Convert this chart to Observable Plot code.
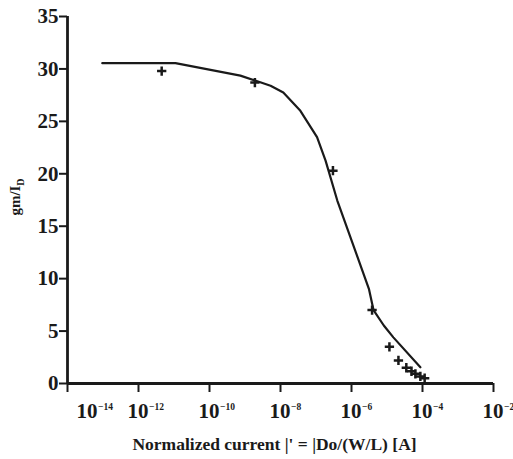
<!DOCTYPE html>
<html><head><meta charset="utf-8">
<script src="https://cdn.jsdelivr.net/npm/d3@7"></script>
<script src="https://cdn.jsdelivr.net/npm/@observablehq/plot@0.6"></script>
<style>body{margin:0;background:#fff}</style>
</head><body><div id="chart"></div>
<script>
// Simulated curve (solid line)
const curveCurrent = [9.55e-14, 1.1e-11, 7.41e-10, 5.25e-9, 1.2e-8, 3.63e-8, 1.07e-7, 1.86e-7, 3.98e-7, 3.09e-6, 4.17e-6, 8.13e-6, 1.51e-5, 8.71e-5];
const curveGm      = [30.55, 30.55, 29.36, 28.4, 27.75, 26.0, 23.5, 21.26, 17.45, 9.03, 7.0, 5.53, 4.4, 1.55];
// Measured points (+)
const measCurrent = [4.5e-12, 1.9e-9, 3.0e-7, 3.8e-6, 1.17e-5, 2.1e-5, 3.5e-5, 4.9e-5, 6.3e-5, 8.7e-5, 1.15e-4];
const measGm      = [29.8, 28.7, 20.3, 7.0, 3.5, 2.2, 1.5, 1.17, 0.92, 0.67, 0.5];
// Ticks and labels
const xTicks = [1e-14, 1e-12, 1e-10, 1e-8, 1e-6, 1e-4, 1e-2];
const yTicks = [0, 5, 10, 15, 20, 25, 30, 35];
const xLabel = "Normalized current |' = |Do/(W/L) [A]";
const yLabelMain = "gm/I";
const yLabelSub = "D";

const curve = curveCurrent.map((x, i) => ({x, y: curveGm[i]}));
const meas = measCurrent.map((x, i) => ({x, y: measGm[i]}));
const fmt = d => "10^" + Math.round(Math.log10(d));
const ink = "#1a1a1a";
const font = "'Liberation Serif', 'Times New Roman', serif";

const plot = Plot.plot({
  width: 513, height: 459,
  marginLeft: 67, marginRight: 20, marginTop: 16, marginBottom: 76,
  style: {fontFamily: font, fontWeight: "bold", color: ink, background: "#fff"},
  x: {type: "log", domain: [1e-14, 1e-2]},
  y: {domain: [0, 35]},
  marks: [
    Plot.axisY({ticks: yTicks, tickSize: 8, tickPadding: 1, label: null, strokeWidth: 2, fontSize: 21}),
    Plot.axisX({ticks: xTicks, tickSize: 9, tickFormat: () => "", label: null, strokeWidth: 2}),
    Plot.text(xTicks.slice(1), {x: d => d, text: fmt, frameAnchor: "bottom", textAnchor: "start", lineAnchor: "top", dx: -11, dy: 20, fontSize: 21}),
    Plot.text([xTicks[0]], {x: d => d, text: fmt, frameAnchor: "bottom", textAnchor: "start", lineAnchor: "top", dx: 9, dy: 20, fontSize: 21}),
    Plot.ruleY([0], {x1: 1e-14, x2: 1e-2, stroke: ink, strokeWidth: 2.8}),
    Plot.ruleX([1e-14], {y1: 0, y2: 35, stroke: ink, strokeWidth: 2.8}),
    Plot.line(curve, {x: "x", y: "y", stroke: ink, strokeWidth: 2.2}),
    Plot.dot(meas, {x: "x", y: "y", symbol: "plus", r: 3.1, stroke: ink, strokeWidth: 2.5}),
    Plot.text([xLabel], {frameAnchor: "bottom", text: d => d, dy: 61, dx: -6, fontSize: 17.5, lineAnchor: "middle", textAnchor: "middle"}),
    Plot.text([yLabelMain], {frameAnchor: "left", text: d => d, dx: -52, dy: -3, rotate: -90, fontSize: 15, lineAnchor: "middle", textAnchor: "middle"})
  ]
});

const NS = "http://www.w3.org/2000/svg";
plot.querySelectorAll("text").forEach(t => {
  const txt = t.textContent;
  const m = /^10\^(-?\d+)$/.exec(txt);
  if (m) {
    t.textContent = "";
    const base = document.createElementNS(NS, "tspan");
    base.textContent = "10";
    const sup = document.createElementNS(NS, "tspan");
    sup.textContent = "\u2212" + Math.abs(+m[1]);
    sup.setAttribute("font-size", "9.5");
    sup.setAttribute("dy", "-8");
    sup.setAttribute("dx", "0.5");
    t.appendChild(base);
    t.appendChild(sup);
  } else if (txt === yLabelMain) {
    const sub = document.createElementNS(NS, "tspan");
    sub.textContent = yLabelSub;
    sub.setAttribute("font-size", "10");
    sub.setAttribute("dy", "4");
    t.appendChild(sub);
  }
});
document.getElementById("chart").appendChild(plot);
</script>
</body></html>
